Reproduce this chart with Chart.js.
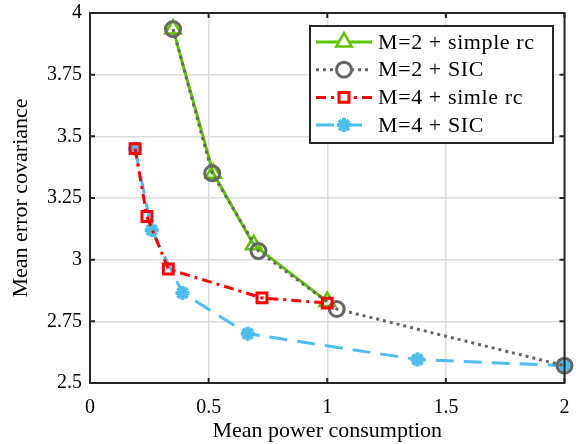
<!DOCTYPE html>
<html>
<head>
<meta charset="utf-8">
<script src="https://cdn.jsdelivr.net/npm/chart.js@4.4.0/dist/chart.umd.min.js"></script>
<style>
  html, body { margin: 0; padding: 0; background: #fff; }
  #wrap { width: 576px; height: 444px; }
</style>
</head>
<body>
<div id="wrap"><canvas id="chart" width="576" height="444"></canvas></div>
<script>
// values
const m2SimpleX = [0.35, 0.52, 0.69, 1.0];
const m2SimpleY = [3.935, 3.35, 3.06, 2.83];
const m2SicX = [0.35, 0.515, 0.71, 1.04, 2.0];
const m2SicY = [3.935, 3.35, 3.035, 2.8, 2.57];
const m4SimpleX = [0.19, 0.24, 0.33, 0.725, 1.0];
const m4SimpleY = [3.45, 3.175, 2.962, 2.845, 2.824];
const m4SicX = [0.19, 0.26, 0.39, 0.665, 1.38, 2.0];
const m4SicY = [3.45, 3.12, 2.865, 2.70, 2.595, 2.57];
const xTicks = [0, 0.5, 1, 1.5, 2];
const yTicks = [2.5, 2.75, 3, 3.25, 3.5, 3.75, 4];

const FONT = "'Liberation Serif', 'DejaVu Serif', serif";

function pts(xs, ys) {
    return xs.map((x, i) => ({ x: x, y: ys[i] }));
}

const datasets = [
    {
        label: 'M=2 + simple rc',
        data: pts(m2SimpleX, m2SimpleY),
        borderColor: '#5fc400',
        backgroundColor: 'rgba(0,0,0,0)',
        borderWidth: 3,
        pointStyle: 'triangle',
        pointRadius: 9,
        pointBorderWidth: 2.5,
        order: 3
    },
    {
        label: 'M=2 + SIC',
        data: pts(m2SicX, m2SicY),
        borderColor: '#666666',
        backgroundColor: 'rgba(0,0,0,0)',
        borderWidth: 3,
        borderDash: [3, 4],
        pointStyle: 'circle',
        pointRadius: 7.5,
        pointBorderWidth: 3,
        order: 2
    },
    {
        label: 'M=4 + simle rc',
        data: pts(m4SimpleX, m4SimpleY),
        borderColor: '#ff0000',
        backgroundColor: 'rgba(0,0,0,0)',
        borderWidth: 3,
        borderDash: [10, 5, 3, 5],
        pointStyle: 'rect',
        pointRadius: 7,
        pointBorderWidth: 3,
        order: 1
    },
    {
        label: 'M=4 + SIC',
        data: pts(m4SicX, m4SicY),
        borderColor: '#4dbeee',
        backgroundColor: '#4dbeee',
        borderWidth: 3,
        borderDash: [18, 10],
        pointStyle: 'star',
        pointRadius: 7,
        pointBorderWidth: 4,
        order: 4
    }
];

// matlab style box with inward ticks
const boxPlugin = {
    id: 'boxPlugin',
    afterDatasetsDraw(chart) {
        const ctx = chart.ctx;
        const a = chart.chartArea;
        const xs = chart.scales.x, ys = chart.scales.y;
        ctx.save();
        ctx.strokeStyle = '#262626';
        ctx.lineWidth = 2;
        ctx.strokeRect(a.left, a.top, a.right - a.left, a.bottom - a.top);
        ctx.beginPath();
        xTicks.forEach(v => {
            const px = xs.getPixelForValue(v);
            ctx.moveTo(px, a.bottom); ctx.lineTo(px, a.bottom - 5);
            ctx.moveTo(px, a.top); ctx.lineTo(px, a.top + 5);
        });
        yTicks.forEach(v => {
            const py = ys.getPixelForValue(v);
            ctx.moveTo(a.left, py); ctx.lineTo(a.left + 5, py);
            ctx.moveTo(a.right, py); ctx.lineTo(a.right - 5, py);
        });
        ctx.stroke();
        ctx.restore();
    },
    afterDraw(chart) {
        // legend box in the upper right
        const ctx = chart.ctx;
        const left = 310, top = 26, w = 243, h = 117;
        ctx.save();
        ctx.fillStyle = '#fff';
        ctx.fillRect(left, top, w, h);
        ctx.strokeStyle = '#262626';
        ctx.lineWidth = 2;
        ctx.strokeRect(left, top, w, h);
        ctx.font = '22px ' + FONT;
        ctx.letterSpacing = '0.6px';
        ctx.textBaseline = 'middle';
        chart.data.datasets.forEach((ds, i) => {
            const cy = top + 16 + i * 27.7;
            ctx.save();
            ctx.strokeStyle = ds.borderColor;
            ctx.lineWidth = ds.borderWidth;
            ctx.setLineDash(ds.borderDash || []);
            ctx.beginPath();
            ctx.moveTo(left + 6, cy);
            ctx.lineTo(left + 62, cy);
            ctx.stroke();
            ctx.setLineDash([]);
            ctx.lineWidth = ds.pointBorderWidth;
            ctx.fillStyle = '#fff';
            Chart.helpers.drawPoint(ctx, {
                pointStyle: ds.pointStyle,
                radius: ds.pointRadius,
                borderWidth: ds.pointBorderWidth,
                rotation: 0
            }, left + 34, cy);
            ctx.restore();
            ctx.fillStyle = '#000';
            ctx.fillText(ds.label, left + 68, cy + 1);
        });
        ctx.restore();
    }
};

const ctx = document.getElementById('chart').getContext('2d');
new Chart(ctx, {
    type: 'scatter',
    data: { datasets: datasets.map(d => Object.assign({ showLine: true, clip: false, pointBackgroundColor: d.pointStyle === 'star' ? d.borderColor : 'rgba(0,0,0,0)' }, d)) },
    options: {
        responsive: false,
        animation: false,
        layout: { padding: { left: 0, right: 8, top: 13, bottom: 0 } },
        plugins: {
            legend: { display: false },
            tooltip: { enabled: false }
        },
        scales: {
            x: {
                type: 'linear',
                min: 0,
                max: 2,
                afterBuildTicks: s => { s.ticks = xTicks.map(v => ({ value: v })); },
                afterFit: s => { s.height = 61; s.paddingLeft = 0; s.paddingRight = 0; },
                grid: { color: '#dcdcdc', lineWidth: 1.5, drawTicks: false },
                border: { display: false },
                ticks: {
                    color: '#000',
                    padding: 13,
                    font: { family: FONT, size: 20 },
                    callback: v => String(v)
                },
                title: {
                    display: true,
                    text: 'Mean power consumption',
                    color: '#000',
                    padding: { top: 0, bottom: 0 },
                    font: { family: FONT, size: 22 }
                }
            },
            y: {
                type: 'linear',
                min: 2.5,
                max: 4,
                afterBuildTicks: s => { s.ticks = yTicks.map(v => ({ value: v })); },
                afterFit: s => { s.width = 90; s.paddingTop = 0; s.paddingBottom = 0; },
                grid: { color: '#dcdcdc', lineWidth: 1.5, drawTicks: false },
                border: { display: false },
                ticks: {
                    color: '#000',
                    padding: 8,
                    font: { family: FONT, size: 20 },
                    callback: v => String(v)
                },
                title: {
                    display: true,
                    text: 'Mean error covariance',
                    color: '#000',
                    padding: { top: 8, bottom: 0 },
                    font: { family: FONT, size: 22 }
                }
            }
        }
    },
    plugins: [boxPlugin]
});
</script>
</body>
</html>
